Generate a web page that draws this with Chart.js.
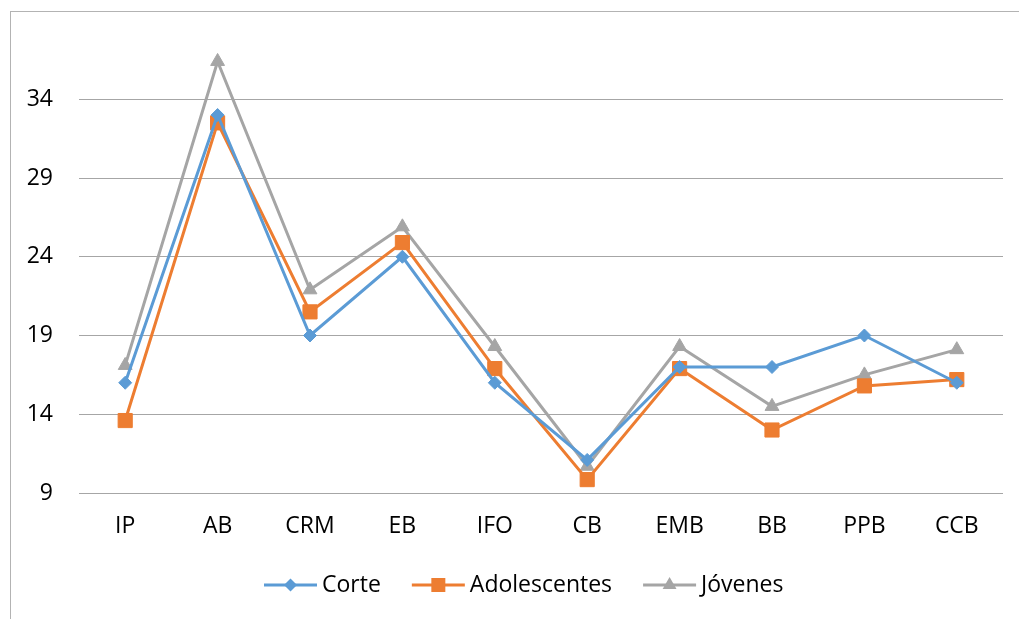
<!DOCTYPE html>
<html>
<head>
<meta charset="utf-8">
<script src="https://cdn.jsdelivr.net/npm/chart.js"></script>
<style>
  body { margin: 0; background: #fff; overflow: hidden; }
  #wrap { position: relative; width: 1019px; height: 619px; overflow: hidden; }
  #frame { position: absolute; left: 10px; top: 11px; width: 1100px; height: 700px; border: 1px solid #b3b3b3; }
  #chart { position: absolute; left: 0; top: 0; }
</style>
</head>
<body>
<div id="wrap">
  <div id="frame"></div>
  <canvas id="chart" width="1019" height="619"></canvas>
</div>
<script>
// values
const categories = ["IP", "AB", "CRM", "EB", "IFO", "CB", "EMB", "BB", "PPB", "CCB"];
const corte = [16, 33, 19, 24, 16, 11.1, 17, 17, 19, 16];
const adolescentes = [13.6, 32.5, 20.5, 24.9, 16.9, 9.85, 16.9, 13, 15.8, 16.2];
const jovenes = [17.1, 36.4, 21.9, 25.9, 18.3, 10.7, 18.3, 14.5, 16.5, 18.1];
const yTicks = [9, 14, 19, 24, 29, 34];
const yMin = 9;
const yMax = 39;

const FONT = "'Open Sans', sans-serif";
const FONT_SIZE = 23;

function series(label, data, color, style, radius) {
  return {
    label: label,
    data: data,
    borderColor: color,
    backgroundColor: color,
    borderWidth: 3,
    tension: 0,
    pointStyle: style,
    pointRadius: radius,
    pointHoverRadius: radius,
    pointBackgroundColor: color,
    pointBorderColor: color,
    pointBorderWidth: 1,
  };
}

// draws the line + marker legend the way the original has it
function drawMarker(ctx, style, x, y, color) {
  ctx.fillStyle = color;
  ctx.beginPath();
  if (style === "rectRot") {
    const r = 6.5;
    ctx.moveTo(x, y - r); ctx.lineTo(x + r, y); ctx.lineTo(x, y + r); ctx.lineTo(x - r, y);
  } else if (style === "rect") {
    const h = 7;
    ctx.rect(x - h, y - h, 2 * h, 2 * h);
  } else {
    const r = 8;
    ctx.moveTo(x, y - r);
    ctx.lineTo(x + r * 0.866, y + r / 2);
    ctx.lineTo(x - r * 0.866, y + r / 2);
  }
  ctx.closePath();
  ctx.fill();
}

const lineLegend = {
  id: "lineLegend",
  afterDraw(chart) {
    const ctx = chart.ctx;
    const y = 585;
    let x = 264;
    ctx.save();
    ctx.font = FONT_SIZE + "px " + FONT;
    ctx.textBaseline = "middle";
    ctx.textAlign = "left";
    chart.data.datasets.forEach((ds) => {
      ctx.strokeStyle = ds.borderColor;
      ctx.lineWidth = 3;
      ctx.beginPath();
      ctx.moveTo(x, y);
      ctx.lineTo(x + 53, y);
      ctx.stroke();
      drawMarker(ctx, ds.pointStyle, x + 26.5, y, ds.borderColor);
      ctx.fillStyle = "#000";
      ctx.fillText(ds.label, x + 58, y);
      x += 58 + ctx.measureText(ds.label).width + 31;
    });
    ctx.restore();
  },
};

// keep label paddings out of the layout so the plot area stays where it is in the original
function noEdgePadding(scale) {
  scale.paddingTop = 0;
  scale.paddingBottom = 0;
  scale.paddingLeft = 0;
  scale.paddingRight = 0;
}

new Chart(document.getElementById("chart"), {
  type: "line",
  data: {
    labels: categories,
    datasets: [
      series("Corte", corte, "#5b9bd5", "rectRot", 6.5),
      series("Adolescentes", adolescentes, "#ed7d31", "rect", 10),
      series("Jóvenes", jovenes, "#a5a5a5", "triangle", 8),
    ],
  },
  options: {
    responsive: false,
    animation: false,
    layout: { padding: { top: 20.5, left: 0, right: 16, bottom: 66 } },
    plugins: {
      legend: { display: false },
      tooltip: { enabled: false },
    },
    scales: {
      x: {
        offset: true,
        grid: { display: false, drawTicks: false },
        border: { display: false },
        ticks: { color: "#000", padding: 20, font: { family: FONT, size: FONT_SIZE } },
        afterFit: (scale) => { scale.height = 60; noEdgePadding(scale); },
      },
      y: {
        min: yMin,
        max: yMax,
        afterBuildTicks: (scale) => {
          scale.ticks = yTicks.map((v) => ({ value: v }));
        },
        grid: { color: "#a6a6a6", lineWidth: 1, drawTicks: false },
        border: { display: false },
        ticks: { color: "#000", padding: 26, font: { family: FONT, size: FONT_SIZE } },
        afterFit: (scale) => { scale.width = 79; noEdgePadding(scale); },
      },
    },
  },
  plugins: [lineLegend],
});
</script>
</body>
</html>
